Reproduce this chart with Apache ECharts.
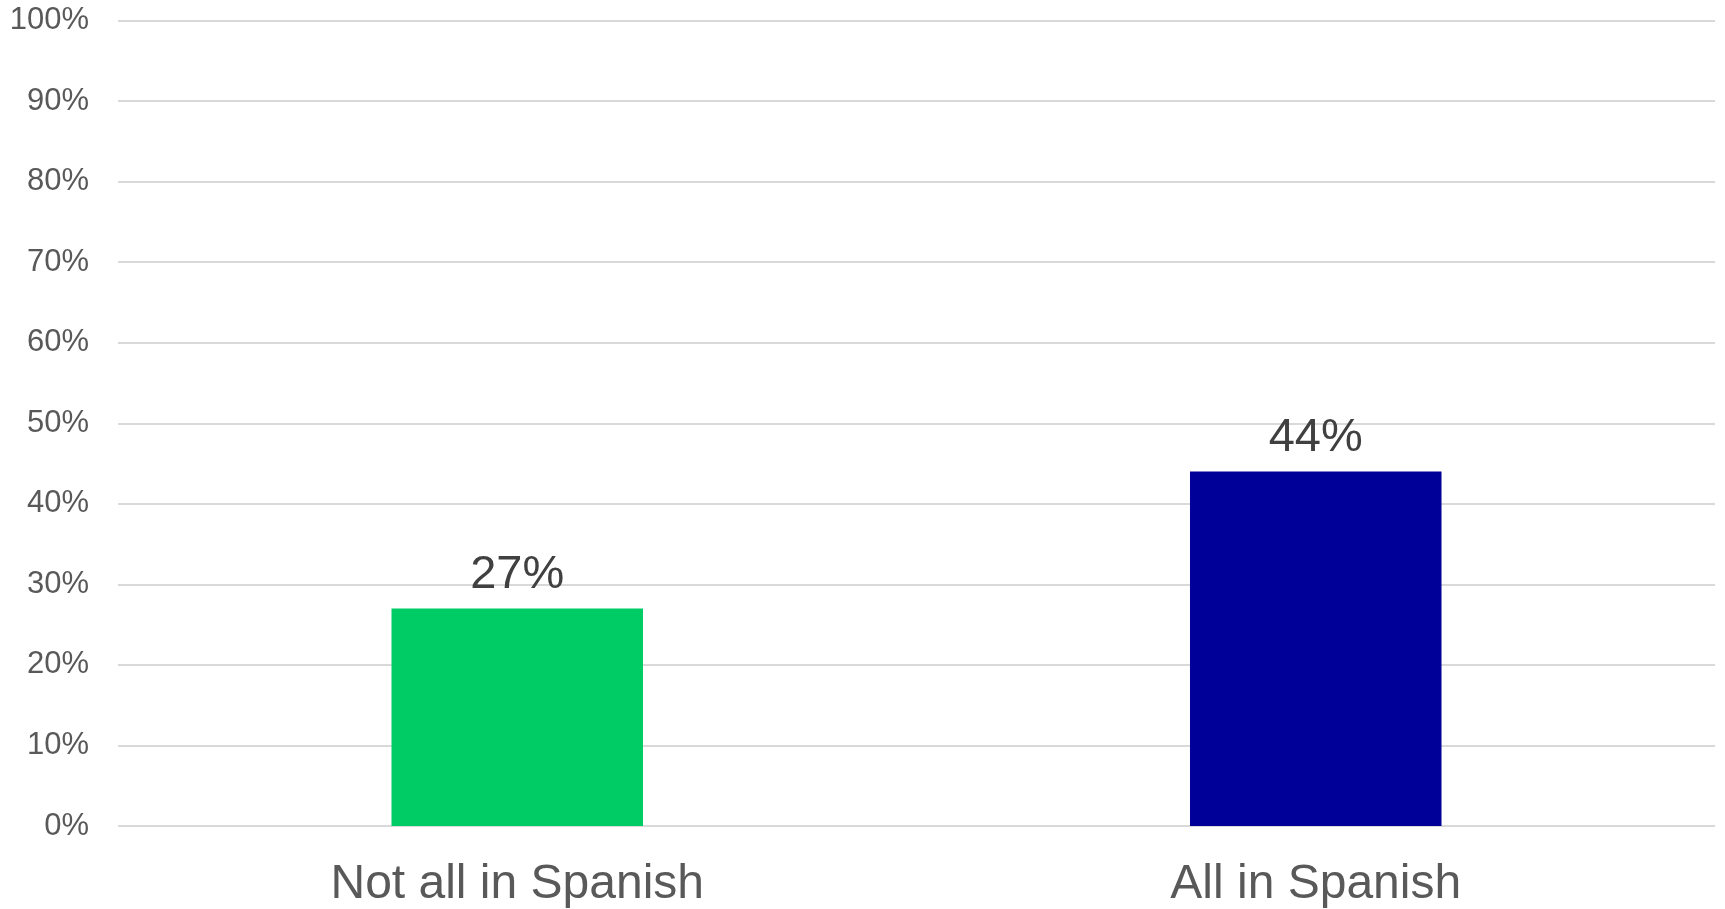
<!DOCTYPE html>
<html>
<head>
<meta charset="utf-8">
<style>
  html, body { margin: 0; padding: 0; background: #ffffff; }
  #chart { width: 1725px; height: 909px; }
</style>
<script src="https://cdn.jsdelivr.net/npm/echarts@6/dist/echarts.min.js"></script>
</head>
<body>
<div id="chart"></div>
<script>
const categories = ["Not all in Spanish", "All in Spanish"];
const values = [27, 44];
const barColors = ["#00CC66", "#000099"];
const yTicks = [0, 10, 20, 30, 40, 50, 60, 70, 80, 90, 100];

const chart = echarts.init(document.getElementById('chart'), null, { renderer: 'canvas' });
const FONT = '"Liberation Sans", Arial, sans-serif';

chart.setOption({
  animation: false,
  backgroundColor: '#ffffff',
  grid: { left: 118, right: 10, top: 20.5, bottom: 83, containLabel: false },
  xAxis: {
    type: 'category',
    data: categories,
    axisLine: { show: false },
    axisTick: { show: false },
    axisLabel: { color: '#595959', fontSize: 48, fontFamily: FONT, margin: 35 }
  },
  yAxis: {
    type: 'value',
    min: yTicks[0],
    max: yTicks[yTicks.length - 1],
    interval: 10,
    axisLine: { show: false },
    axisTick: { show: false },
    splitLine: { lineStyle: { color: '#d9d9d9', width: 2 } },
    axisLabel: { color: '#595959', fontSize: 31, fontFamily: FONT, margin: 29, formatter: '{value}%' }
  },
  series: [{
    type: 'bar',
    barWidth: '31.5%',
    data: values.map((v, i) => ({ value: v, itemStyle: { color: barColors[i] } })),
    label: {
      show: true,
      position: 'top',
      distance: 10,
      color: '#404040',
      fontSize: 47,
      fontFamily: FONT,
      formatter: '{c}%'
    }
  }]
});
</script>
</body>
</html>
